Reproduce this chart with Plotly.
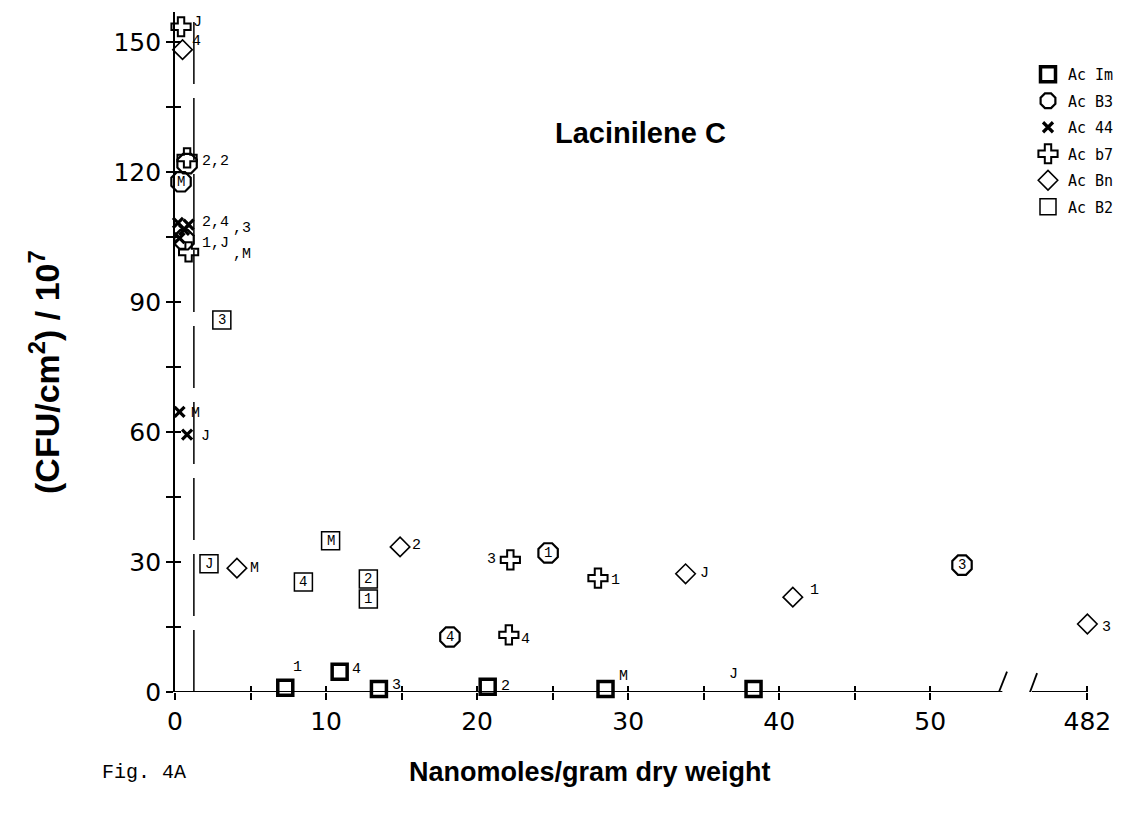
import plotly.graph_objects as go

# ---------------------------------------------------------------- data
# Lacinilene C concentration (nmol/g dry weight) vs. bacterial count
# (CFU/cm^2 / 10^7) for six Acinetobacter isolates; each point is tagged
# with its sample code.
im_x = [7.3, 10.9, 13.5, 20.7, 28.5, 38.3]
im_y = [1.0, 4.7, 0.7, 1.2, 0.7, 0.7]
im_lab = ["1", "4", "3", "2", "M", "J"]

b3_x = [0.4, 0.8, 0.6, 24.7, 18.2, 52.1]
b3_y = [117.8, 122.0, 104.4, 32.1, 12.7, 29.3]
b3_lab = ["M", "2", "J", "1", "4", "3"]

a44_x = [0.3, 0.2, 0.6, 0.9, 0.8, 0.3]
a44_y = [104.8, 108.3, 106.7, 107.9, 59.4, 64.7]
a44_lab = ["1", "2", "3", "4", "J", "M"]

b7_x = [28.0, 0.8, 22.2, 22.1, 0.4, 0.9]
b7_y = [26.3, 123.3, 30.5, 13.2, 153.6, 101.6]
b7_lab = ["1", "2", "3", "4", "J", "M"]

bn_x = [40.9, 14.9, 482.0, 0.5, 33.8, 4.1]
bn_y = [21.9, 33.5, 15.7, 148.3, 27.3, 28.6]
bn_lab = ["1", "2", "3", "4", "J", "M"]

b2_x = [12.8, 12.8, 3.1, 8.5, 2.25, 10.3]
b2_y = [21.5, 26.1, 85.9, 25.4, 29.6, 34.9]
b2_lab = ["1", "2", "3", "4", "J", "M"]

x_major = [0, 10, 20, 30, 40, 50]
x_minor = [5, 15, 25, 35, 45]
x_far = 482                      # single tick beyond the axis break
y_major = [0, 30, 60, 90, 120, 150]
y_minor = [15, 45, 75, 105, 135]

dash_x = 1.25                    # vertical dashed reference line

# ---------------------------------------------------------------- broken x axis
BREAK_SHIFT = 421.6              # values past the break are drawn shifted by this
LEFT_END, RIGHT_START = 54.77, 56.73


def xd(v):
    return v - BREAK_SHIFT if v > 100 else v


# ---------------------------------------------------------------- styling
MONO = "Courier New, Liberation Mono, monospace"
SANS_B = "Liberation Sans, Arial, sans-serif"
TICK_FONT = dict(family="DejaVu Sans", size=25, color="black")
TICK = dict(ticklen=7, tickwidth=1.8, tickcolor="black")

series = [
    ("Ac Im", im_x, im_y, im_lab,
     dict(symbol="square-open", size=15, color="black", line=dict(width=3.5, color="black"))),
    ("Ac B3", b3_x, b3_y, b3_lab,
     dict(symbol="octagon-open", size=21, color="black", line=dict(width=2.2, color="black"))),
    ("Ac 44", a44_x, a44_y, a44_lab,
     dict(symbol="x-thin", size=10, color="black", line=dict(width=3.2, color="black"))),
    ("Ac b7", b7_x, b7_y, b7_lab,
     dict(symbol="cross-open", size=16, color="black", line=dict(width=2.0, color="black"))),
    ("Ac Bn", bn_x, bn_y, bn_lab,
     dict(symbol="diamond-open", size=15, color="black", line=dict(width=1.6, color="black"))),
    ("Ac B2", b2_x, b2_y, b2_lab,
     dict(symbol="square-open", size=18, color="black", line=dict(width=1.5, color="black"))),
]

# labels printed inside the symbol
inside = {"Ac B3": {"M", "1", "4", "3"}, "Ac B2": {"1", "2", "3", "4", "J", "M"}}

# crowded points near the y axis share one combined caption
combined = {
    ("Ac 44", "2"): "2,4", ("Ac 44", "4"): "",
    ("Ac 44", "3"): ",3",
    ("Ac 44", "1"): "1,J", ("Ac B3", "J"): "",
    ("Ac b7", "M"): ",M",
    ("Ac b7", "2"): "2,2", ("Ac B3", "2"): "",
}

# caption offsets in pixels: (xshift, yshift, xanchor)
shift = {
    ("Ac Im", "1"): (6, 20, "left"), ("Ac Im", "4"): (10, 2, "left"),
    ("Ac Im", "3"): (11, 3, "left"), ("Ac Im", "2"): (11, 0, "left"),
    ("Ac Im", "M"): (11, 12, "left"), ("Ac Im", "J"): (-14, 14, "right"),
    ("Ac 44", "2"): (22, 0, "left"), ("Ac 44", "3"): (47, 1, "left"),
    ("Ac 44", "1"): (20, -5, "left"), ("Ac 44", "J"): (12, -2, "left"),
    ("Ac 44", "M"): (9, -2, "left"),
    ("Ac b7", "1"): (11, -2, "left"), ("Ac b7", "2"): (13, -4, "left"),
    ("Ac b7", "3"): (-12, 0, "right"), ("Ac b7", "4"): (10, -5, "left"),
    ("Ac b7", "J"): (10, 4, "left"), ("Ac b7", "M"): (42, -3, "left"),
    ("Ac Bn", "1"): (15, 7, "left"), ("Ac Bn", "2"): (10, 1, "left"),
    ("Ac Bn", "3"): (13, -3, "left"), ("Ac Bn", "4"): (7, 8, "left"),
    ("Ac Bn", "J"): (12, 0, "left"), ("Ac Bn", "M"): (11, 0, "left"),
}

fig = go.Figure()
annotations = []

for name, xs, ys, labs, marker in series:
    fig.add_trace(go.Scatter(
        x=[xd(v) for v in xs], y=ys, mode="markers", name=name,
        legendgroup=name, marker=marker, cliponaxis=False, hoverinfo="skip",
    ))
    for xv, yv, lab in zip(xs, ys, labs):
        txt = combined.get((name, lab), lab)
        if not txt:
            continue
        if lab in inside.get(name, set()) and (name, lab) not in combined:
            annotations.append(dict(
                x=xd(xv), y=yv, xref="x", yref="y", text=txt, showarrow=False,
                xanchor="center", yanchor="middle",
                font=dict(family=MONO, size=14, color="black")))
        else:
            dx, dy, anchor = shift[(name, lab)]
            annotations.append(dict(
                x=xd(xv), y=yv, xref="x", yref="y", text=txt, showarrow=False,
                xanchor=anchor, yanchor="middle", xshift=dx, yshift=dy,
                font=dict(family=MONO, size=15, color="black")))

# empty trace so the overlay axes (inner halves of the crossing ticks) are drawn
fig.add_trace(go.Scatter(x=[None], y=[None], xaxis="x2", yaxis="y2",
                         showlegend=False, hoverinfo="skip"))

x_tickvals = x_major + [xd(x_far)]
x_ticktext = [str(v) for v in x_major] + [str(x_far)]
x_all = sorted(x_major + x_minor) + [xd(x_far)]
y_all = sorted(y_major + y_minor)

XR = [0, 61.5]
YR = [0, 157]

# axis line with a break, drawn at y = 0
shapes = [
    dict(type="line", xref="x", yref="y", x0=0, x1=LEFT_END, y0=0, y1=0,
         line=dict(color="black", width=1.8), layer="below"),
    dict(type="line", xref="x", yref="y", x0=RIGHT_START, x1=xd(x_far), y0=0, y1=0,
         line=dict(color="black", width=1.8), layer="below"),
    dict(type="line", xref="x", yref="y", x0=54.42, x1=55.08, y0=-1.1, y1=4.7,
         line=dict(color="black", width=1.8)),
    dict(type="line", xref="x", yref="y", x0=56.4, x1=57.07, y0=-1.9, y1=4.35,
         line=dict(color="black", width=1.8)),
    dict(type="line", xref="x", yref="y", x0=dash_x, x1=dash_x, y0=0, y1=YR[1],
         line=dict(color="black", width=1.5, dash="62px,14px"), layer="below"),
]

PLOT_W, PLOT_H = 929, 680


def px_to_paper_x(px):
    return (px - 175) / PLOT_W


def px_to_paper_y(py):
    return (692 - py) / PLOT_H


annotations += [
    dict(xref="paper", yref="paper", x=px_to_paper_x(640), y=px_to_paper_y(133),
         text="<b>Lacinilene C</b>", showarrow=False, xanchor="center", yanchor="middle",
         font=dict(family=SANS_B, size=29, color="black")),
    dict(xref="paper", yref="paper", x=px_to_paper_x(590), y=px_to_paper_y(772),
         text="<b>Nanomoles/gram dry weight</b>", showarrow=False,
         xanchor="center", yanchor="middle",
         font=dict(family=SANS_B, size=27, color="black")),
    dict(xref="paper", yref="paper", x=px_to_paper_x(100), y=px_to_paper_y(772),
         text="Fig. 4A", showarrow=False, xanchor="left", yanchor="middle",
         font=dict(family=MONO, size=20, color="black")),
    dict(xref="paper", yref="paper", x=px_to_paper_x(44), y=px_to_paper_y(372),
         text="<b>(CFU/cm<sup>2</sup>) / 10<sup>7</sup></b>", showarrow=False,
         textangle=-90, xanchor="center", yanchor="middle",
         font=dict(family=SANS_B, size=34, color="black")),
]

fig.update_layout(
    width=1125, height=817,
    margin=dict(l=175, r=21, t=12, b=125, autoexpand=False),
    paper_bgcolor="white", plot_bgcolor="white",
    showlegend=True,
    legend=dict(x=px_to_paper_x(1028), y=px_to_paper_y(58),
                xanchor="left", yanchor="top", bgcolor="rgba(0,0,0,0)",
                font=dict(family="DejaVu Sans Mono", size=15, color="black"),
                tracegroupgap=4, itemwidth=30),
    xaxis=dict(range=XR, showgrid=False, zeroline=False, showline=False,
               tickmode="array", tickvals=x_tickvals, ticktext=x_ticktext,
               ticks="outside", tickfont=TICK_FONT, **TICK,
               minor=dict(tickmode="array", tickvals=x_minor, ticks="outside",
                          showgrid=False, **TICK)),
    yaxis=dict(range=YR, showgrid=False, zeroline=False, showline=True,
               linecolor="black", linewidth=1.8,
               tickmode="array", tickvals=y_major, ticktext=[str(v) for v in y_major],
               ticks="outside", tickfont=TICK_FONT, **TICK,
               minor=dict(tickmode="array", tickvals=y_minor, ticks="outside",
                          showgrid=False, **TICK)),
    xaxis2=dict(range=XR, overlaying="x", anchor="y2", side="bottom",
                showgrid=False, zeroline=False, showline=False, showticklabels=False,
                tickmode="array", tickvals=x_all, ticks="inside",
                ticklen=6, tickwidth=1.8, tickcolor="black"),
    yaxis2=dict(range=YR, overlaying="y", anchor="x2", side="left",
                showgrid=False, zeroline=False, showline=False, showticklabels=False,
                tickmode="array", tickvals=y_all, ticks="inside",
                ticklen=6, tickwidth=1.8, tickcolor="black"),
    shapes=shapes,
    annotations=annotations,
)

fig.write_html("out.html")
